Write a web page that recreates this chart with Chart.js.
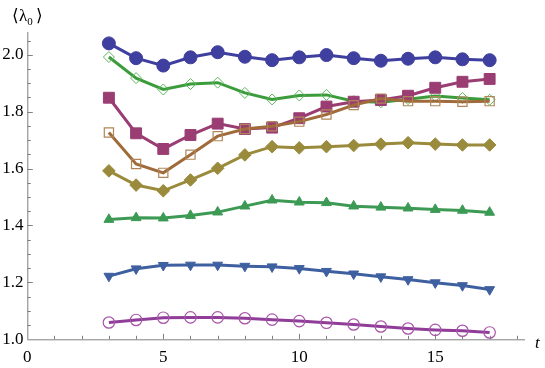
<!DOCTYPE html>
<html><head><meta charset="utf-8">
<script src="https://cdn.jsdelivr.net/npm/chart.js@4/dist/chart.umd.min.js"></script>
<style>html,body{margin:0;padding:0;background:#fff}#wrap{width:545px;height:368px;position:relative}</style>
</head><body><div id="wrap"><canvas id="c" width="545" height="368"></canvas></div>
<script>
const tValues = [3,4,5,6,7,8,9,10,11,12,13,14,15,16,17];
const darkBlueCircles   = [2.040,1.988,1.962,1.991,2.009,1.993,1.981,1.991,1.999,1.988,1.979,1.986,1.991,1.984,1.981];
const greenOpenDiamonds = [1.992,1.918,1.878,1.897,1.902,1.866,1.843,1.857,1.859,1.837,1.833,1.844,1.855,1.848,1.842];
const magentaSquares    = [1.849,1.724,1.669,1.718,1.758,1.739,1.744,1.777,1.818,1.835,1.841,1.856,1.884,1.905,1.915];
const brownOpenSquares  = [1.727,1.616,1.585,1.649,1.714,1.739,1.749,1.765,1.790,1.823,1.846,1.837,1.837,1.835,1.837];
const oliveDiamonds     = [1.592,1.542,1.522,1.560,1.601,1.648,1.677,1.673,1.677,1.681,1.686,1.691,1.686,1.683,1.683];
const greenTriangles    = [1.421,1.427,1.426,1.435,1.447,1.468,1.489,1.482,1.480,1.468,1.464,1.461,1.456,1.453,1.446];
const blueDownTriangles = [1.222,1.248,1.260,1.261,1.261,1.257,1.255,1.249,1.239,1.230,1.220,1.210,1.199,1.189,1.175];
const purpleOpenCircles = [1.059,1.068,1.076,1.077,1.077,1.074,1.069,1.064,1.058,1.052,1.045,1.038,1.033,1.030,1.024];

const xTickLabels = ['0','5','10','15'];
const xTickValues = [0,5,10,15];
const yTickLabels = ['1.0','1.2','1.4','1.6','1.8','2.0'];
const yTickValues = [1.0,1.2,1.4,1.6,1.8,2.0];
const xAxisTitle = 't';
const yAxisTitle = '\u27E8\u03BB';

function pts(arr){ return tValues.map((t,i)=>({x:t,y:arr[i]})); }

function ds(arr, line, opts){
  return Object.assign({
    data: pts(arr), borderColor: line, backgroundColor: line,
    pointBorderColor: line, pointBackgroundColor: line,
    borderWidth: 3, tension: 0, pointBorderWidth: 1, clip: false
  }, opts);
}

const datasets = [
  ds(purpleOpenCircles, '#8f3d98', {pointStyle:'circle', pointRadius:5.7, pointBackgroundColor:'rgba(0,0,0,0)', pointBorderColor:'#a754a8', pointBorderWidth:1.2}),
  ds(blueDownTriangles, '#3f60a0', {pointStyle:'triangle', rotation:180, pointRadius:5.7}),
  ds(greenTriangles, '#3d9a55', {pointStyle:'triangle', pointRadius:5.7}),
  ds(oliveDiamonds, '#9a8b3c', {pointStyle:'rectRot', pointRadius:6.3}),
  ds(brownOpenSquares, '#a06b3a', {pointStyle:'rect', pointRadius:6.5, pointBackgroundColor:'rgba(0,0,0,0)', pointBorderColor:'#b08658', pointBorderWidth:1.2}),
  ds(magentaSquares, '#9a3d72', {pointStyle:'rect', pointRadius:7.7}),
  ds(greenOpenDiamonds, '#3c9c3c', {pointStyle:'rectRot', pointRadius:5.5, pointBackgroundColor:'rgba(0,0,0,0)', pointBorderColor:'#5cb85c', pointBorderWidth:1}),
  ds(darkBlueCircles, '#3f3f9f', {pointStyle:'circle', pointRadius:6.5})
];

const FONT = "17px 'Liberation Serif', 'Times New Roman', serif";
const IFONT = "italic 17px 'Liberation Serif', 'Times New Roman', serif";
const SFONT = "11px 'Liberation Serif', 'Times New Roman', serif";

const axesPlugin = {
  id:'axes',
  beforeDatasetsDraw(chart){
    const ctx = chart.ctx, xs = chart.scales.x, ys = chart.scales.y;
    const x0 = xs.getPixelForValue(0), y0 = ys.getPixelForValue(1.0);
    const xEnd = xs.getPixelForValue(xs.max), yEnd = ys.getPixelForValue(ys.max);
    ctx.save();
    ctx.strokeStyle = '#808080'; ctx.lineWidth = 1;
    ctx.beginPath();
    ctx.moveTo(x0, y0+0.5); ctx.lineTo(xEnd, y0+0.5);
    ctx.moveTo(x0+0.5, y0); ctx.lineTo(x0+0.5, yEnd);
    ctx.stroke();
    ctx.beginPath();
    for (let t=1; t<=18; t++){
      const px = Math.round(xs.getPixelForValue(t))+0.5;
      const len = (t%5===0)?5.5:3.5;
      ctx.moveTo(px, y0); ctx.lineTo(px, y0-len);
    }
    for (let k=1; k<=21; k++){
      const v = 1 + k*0.05;
      if (v > ys.max) break;
      const py = Math.round(ys.getPixelForValue(v))+0.5;
      const len = (k%4===0)?5.5:3.5;
      ctx.moveTo(x0, py); ctx.lineTo(x0+len, py);
    }
    ctx.stroke();
    ctx.fillStyle = '#000'; ctx.font = FONT;
    ctx.textAlign = 'center'; ctx.textBaseline = 'middle';
    xTickLabels.forEach((l,i)=>{ ctx.fillText(l, xs.getPixelForValue(xTickValues[i]), 357.5); });
    ctx.textAlign = 'right';
    yTickLabels.forEach((l,i)=>{ ctx.fillText(l, 23.5, ys.getPixelForValue(yTickValues[i])); });
    ctx.textAlign = 'left';
    ctx.font = IFONT;
    ctx.fillText(xAxisTitle, 535, 343.5);
    ctx.font = FONT;
    ctx.fillText(yAxisTitle, 12, 17);
    const w = ctx.measureText(yAxisTitle).width;
    ctx.font = SFONT;
    ctx.fillText('0', 12+w, 22);
    const w2 = ctx.measureText('0').width;
    ctx.font = FONT;
    ctx.fillText('\u27E9', 12+w+w2+3, 17);
    ctx.restore();
  }
};

new Chart(document.getElementById('c'), {
  type:'line',
  data:{datasets},
  options:{
    responsive:false, animation:false, devicePixelRatio:1,
    layout:{padding:{left:27.3, right:20, top:32, bottom:28.7}},
    plugins:{legend:{display:false}, tooltip:{enabled:false}},
    scales:{
      x:{type:'linear', min:0, max:18.3, display:false},
      y:{type:'linear', min:1.0, max:2.08, display:false}
    }
  },
  plugins:[axesPlugin]
});
</script>
</body></html>
